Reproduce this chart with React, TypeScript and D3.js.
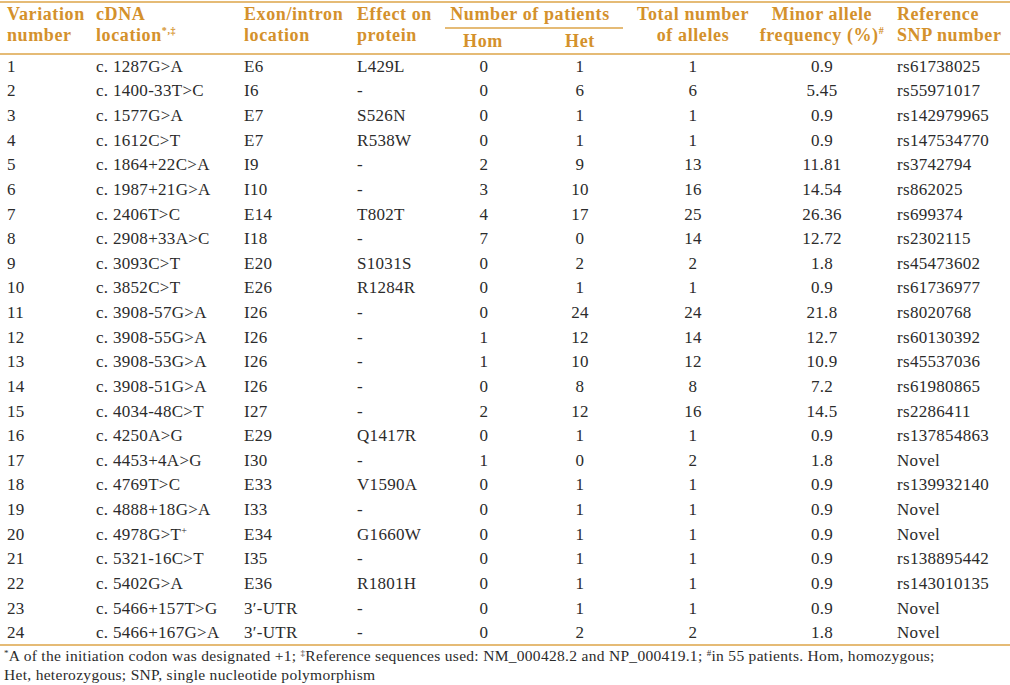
import * as React from "react"
import * as d3 from "d3"

const variationNumbers = ["1", "2", "3", "4", "5", "6", "7", "8", "9", "10", "11", "12", "13", "14", "15", "16", "17", "18", "19", "20", "21", "22", "23", "24"]
const cdnaLocations = [
  "c. 1287G>A", "c. 1400-33T>C", "c. 1577G>A", "c. 1612C>T", "c. 1864+22C>A", "c. 1987+21G>A",
  "c. 2406T>C", "c. 2908+33A>C", "c. 3093C>T", "c. 3852C>T", "c. 3908-57G>A", "c. 3908-55G>A",
  "c. 3908-53G>A", "c. 3908-51G>A", "c. 4034-48C>T", "c. 4250A>G", "c. 4453+4A>G", "c. 4769T>C",
  "c. 4888+18G>A", "c. 4978G>T", "c. 5321-16C>T", "c. 5402G>A", "c. 5466+157T>G", "c. 5466+167G>A",
]
const cdnaMarks = ["", "", "", "", "", "", "", "", "", "", "", "", "", "", "", "", "", "", "", "+", "", "", "", ""]
const exonIntron = ["E6", "I6", "E7", "E7", "I9", "I10", "E14", "I18", "E20", "E26", "I26", "I26", "I26", "I26", "I27", "E29", "I30", "E33", "I33", "E34", "I35", "E36", "3′-UTR", "3′-UTR"]
const proteinEffects = ["L429L", "-", "S526N", "R538W", "-", "-", "T802T", "-", "S1031S", "R1284R", "-", "-", "-", "-", "-", "Q1417R", "-", "V1590A", "-", "G1660W", "-", "R1801H", "-", "-"]
const homCounts = [0, 0, 0, 0, 2, 3, 4, 7, 0, 0, 0, 1, 1, 0, 2, 0, 1, 0, 0, 0, 0, 0, 0, 0]
const hetCounts = [1, 6, 1, 1, 9, 10, 17, 0, 2, 1, 24, 12, 10, 8, 12, 1, 0, 1, 1, 1, 1, 1, 1, 2]
const totalAlleles = [1, 6, 1, 1, 13, 16, 25, 14, 2, 1, 24, 14, 12, 8, 16, 1, 2, 1, 1, 1, 1, 1, 1, 2]
const minorFreqs = ["0.9", "5.45", "0.9", "0.9", "11.81", "14.54", "26.36", "12.72", "1.8", "0.9", "21.8", "12.7", "10.9", "7.2", "14.5", "0.9", "1.8", "0.9", "0.9", "0.9", "0.9", "0.9", "0.9", "1.8"]
const snpIds = [
  "rs61738025", "rs55971017", "rs142979965", "rs147534770", "rs3742794", "rs862025", "rs699374", "rs2302115",
  "rs45473602", "rs61736977", "rs8020768", "rs60130392", "rs45537036", "rs61980865", "rs2286411", "rs137854863",
  "Novel", "rs139932140", "Novel", "Novel", "rs138895442", "rs143010135", "Novel", "Novel",
]

const footnote1 = ["*", "A of the initiation codon was designated +1; ", "‡", "Reference sequences used: NM_000428.2 and NP_000419.1; ", "#", "in 55 patients. Hom, homozygous;"]
const footnote2 = "Het, heterozygous; SNP, single nucleotide polymorphism"

const width = 1010
const height = 685
const gold = "#d4912c"
const lineGold = "#dda449"
const ink = "#2b2b2b"
const font = "'Liberation Serif', 'Times New Roman', serif"

function render(svgEl: SVGSVGElement) {
  const svg = d3.select(svgEl)
  svg.selectAll("*").remove()

  const rows = d3.range(variationNumbers.length)
  const y = d3.scaleBand<number>().domain(rows).range([54, 645])

  const cols = [
    { x: 7, anchor: "start" },
    { x: 96, anchor: "start" },
    { x: 244, anchor: "start" },
    { x: 357, anchor: "start" },
    { x: 484, anchor: "middle" },
    { x: 580, anchor: "middle" },
    { x: 693, anchor: "middle" },
    { x: 822, anchor: "middle" },
    { x: 897, anchor: "start" },
  ]

  // rules
  const rules = [
    { x1: 0, x2: width, y: 2 },
    { x1: 445, x2: 623, y: 28 },
    { x1: 0, x2: width, y: 54 },
    { x1: 0, x2: width, y: 645 },
  ]
  svg
    .selectAll(".rule")
    .data(rules)
    .join("line")
    .attr("class", "rule")
    .attr("x1", (d) => d.x1)
    .attr("x2", (d) => d.x2)
    .attr("y1", (d) => d.y)
    .attr("y2", (d) => d.y)
    .attr("stroke", lineGold)
    .attr("stroke-width", 1.5)

  // header
  const head = svg
    .append("g")
    .attr("font-family", font)
    .attr("font-weight", "bold")
    .attr("font-size", 18)
    .attr("letter-spacing", 0.6)
    .attr("fill", gold)
  const hdr = [
    { x: 7, a: "start", l1: "Variation", l2: "number", sup: "" },
    { x: 96, a: "start", l1: "cDNA", l2: "location", sup: "*,‡" },
    { x: 244, a: "start", l1: "Exon/intron", l2: "location", sup: "" },
    { x: 357, a: "start", l1: "Effect on", l2: "protein", sup: "" },
    { x: 530, a: "middle", l1: "Number of patients", l2: "", sup: "" },
    { x: 693, a: "middle", l1: "Total number", l2: "of alleles", sup: "" },
    { x: 822, a: "middle", l1: "Minor allele", l2: "frequency (%)", sup: "#" },
    { x: 897, a: "start", l1: "Reference", l2: "SNP number", sup: "" },
  ]
  hdr.forEach((h) => {
    head.append("text").attr("x", h.x).attr("y", 20).attr("text-anchor", h.a).text(h.l1)
    if (h.l2) {
      const t = head.append("text").attr("x", h.x).attr("y", 41).attr("text-anchor", h.a).text(h.l2)
      if (h.sup) t.append("tspan").attr("font-size", 10).attr("dy", -7).text(h.sup)
    }
  })
  head.append("text").attr("x", 483).attr("y", 47).attr("text-anchor", "middle").text("Hom")
  head.append("text").attr("x", 580).attr("y", 47).attr("text-anchor", "middle").text("Het")

  // body
  const body = svg
    .append("g")
    .attr("font-family", font)
    .attr("font-size", 17)
    .attr("letter-spacing", 0.3)
    .attr("fill", ink)
  const cells = (i: number) => [
    variationNumbers[i],
    cdnaLocations[i],
    exonIntron[i],
    proteinEffects[i],
    String(homCounts[i]),
    String(hetCounts[i]),
    String(totalAlleles[i]),
    minorFreqs[i],
    snpIds[i],
  ]
  const row = body
    .selectAll(".row")
    .data(rows)
    .join("g")
    .attr("class", "row")
    .attr("transform", (i) => `translate(0,${(y(i) as number) + y.bandwidth() / 2 + 5.5})`)

  row
    .selectAll("text")
    .data((i) => cells(i).map((v, c) => ({ v, c, i })))
    .join("text")
    .attr("x", (d) => cols[d.c].x)
    .attr("text-anchor", (d) => cols[d.c].anchor)
    .each(function (d) {
      const t = d3.select(this)
      t.text(d.v)
      if (d.c === 1 && cdnaMarks[d.i]) {
        t.append("tspan").attr("font-size", 10).attr("dy", -6).text(cdnaMarks[d.i])
      }
    })

  // footnotes
  const foot = svg
    .append("g")
    .attr("font-family", font)
    .attr("font-size", 15.5)
    .attr("letter-spacing", 0.3)
    .attr("fill", ink)
  const f1 = foot.append("text").attr("x", 4).attr("y", 661)
  footnote1.forEach((s, k) => {
    if (k % 2 === 0) f1.append("tspan").attr("font-size", 9).attr("baseline-shift", "super").text(s)
    else f1.append("tspan").text(s)
  })
  foot.append("text").attr("x", 4).attr("y", 680).text(footnote2)
}

export default function App() {
  const ref = React.useRef<SVGSVGElement>(null)
  React.useEffect(() => {
    if (ref.current) render(ref.current)
  }, [])
  return (
    <div style={{ position: "fixed", left: 0, top: 0, background: "#fff" }}>
      <svg ref={ref} width={width} height={height} style={{ display: "block" }} />
    </div>
  )
}
